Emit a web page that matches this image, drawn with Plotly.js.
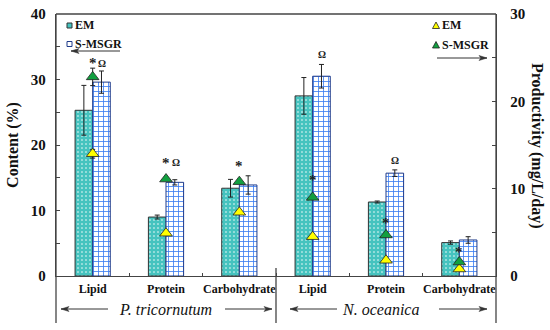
<!DOCTYPE html>
<html><head><meta charset="utf-8">
<script src="https://cdn.plot.ly/plotly-3.0.1.min.js"></script>
<style>body{margin:0;background:#fff}#c{width:550px;height:330px}</style>
</head><body><div id="c"></div>
<script>
const categories = ["Lipid", "Protein", "Carbohydrate"];
const species = ["P. tricornutum", "N. oceanica"];
const xKeys = species.flatMap(s => categories.map(c => s + " " + c));
const tickLabels = species.flatMap(() => categories);

const contentEM    = [25.3, 9.0, 13.4, 27.5, 11.3, 5.1];
const contentEMErr = [3.8, 0.3, 1.35, 2.8, 0.15, 0.25];
const contentSM    = [29.6, 14.3, 13.9, 30.5, 15.7, 5.5];
const contentSMErr = [1.7, 0.4, 1.4, 1.8, 0.5, 0.5];

const prodEM    = [14.0, 4.9, 7.3, 4.5, 1.8, 0.8];
const prodEMErr = [0.5, 0, 0, 0, 0, 0];
const prodSM    = [22.8, 11.1, 10.8, 9.0, 4.7, 1.6];
const prodSMErr = [1.0, 0, 0, 0, 0, 0];

// significance marks: category index, symbol, y (content axis), pixel shift
const sigIdx  = [0, 0, 1, 1, 2, 3, 3, 4, 4, 5];
const sigText = ["*", "Ω", "*", "Ω", "*", "*", "Ω", "*", "Ω", "*"];
const sigY    = [32.5, 32.5, 17.3, 17.3, 16.8, 14.6, 33.8, 8.1, 17.6, 3.6];
const sigDx   = [0, 9, 0, 10, 0, 0, 9, 0, 9, 0];

const SERIF = "'Liberation Serif', 'Times New Roman', Times, serif";
const TEAL = "#45c3bf", BLUE = "#3b7df0", AX = "#444";

const traces = [
  {type:"bar", name:"EM", x:xKeys, y:contentEM,
   error_y:{type:"data", array:contentEMErr, color:"#222", thickness:1, width:2.5},
   marker:{color:TEAL, line:{color:"#333", width:1},
     pattern:{shape:".", fgcolor:"#ffffff", bgcolor:TEAL, size:4, solidity:0.12}},
   showlegend:false},
  {type:"bar", name:"S-MSGR", x:xKeys, y:contentSM,
   error_y:{type:"data", array:contentSMErr, color:"#222", thickness:1, width:2.5},
   marker:{color:"#ffffff", line:{color:"#1f3b8a", width:1},
     pattern:{shape:"+", fgcolor:BLUE, bgcolor:"#ffffff", size:5, solidity:0.3}},
   showlegend:false},
  {type:"scatter", mode:"markers", name:"EM", x:xKeys, y:prodEM, yaxis:"y2",
   error_y:{type:"data", array:prodEMErr, color:"#222", thickness:1, width:2.5},
   marker:{symbol:"triangle-up", size:11, color:"#ffff00", line:{color:"#222", width:0.8}},
   showlegend:false},
  {type:"scatter", mode:"markers", name:"S-MSGR", x:xKeys, y:prodSM, yaxis:"y2",
   error_y:{type:"data", array:prodSMErr, color:"#222", thickness:1, width:2.5},
   marker:{symbol:"triangle-up", size:11, color:"#12a040", line:{color:"#222", width:0.8}},
   showlegend:false}
];

const L = 56, T = 14, W = 440, H = 262;
const px = x => (x - L) / W;
const py = y => (T + H - y) / H;

const shapes = [];
const line = (x0,y0,x1,y1,w,c) => shapes.push({type:"line", xref:"paper", yref:"paper",
  x0:px(x0), y0:py(y0), x1:px(x1), y1:py(y1), line:{color:c||AX, width:w||1.3}});
line(56, 14, 56, 323);
line(496, 14, 496, 323);
line(56, 14, 496, 14);
line(276, 268, 276, 323);

// horizontal arrows: head at hx, tail at tx
const arrow = (hx, tx, y) => {
  line(hx, y, tx, y, 1, "#333");
  const d = tx > hx ? 1 : -1;
  shapes.push({type:"path", xref:"paper", yref:"paper",
    path:`M ${px(hx)},${py(y)} L ${px(hx + d*8)},${py(y-2.5)} L ${px(hx + d*6)},${py(y)} L ${px(hx + d*8)},${py(y+2.5)} Z`,
    fillcolor:"#333", line:{color:"#333", width:0.5}});
};
arrow(71, 120, 51);
arrow(487, 437, 58);
arrow(61, 108, 309);
arrow(272, 225, 309);
arrow(290, 337, 309);
arrow(487, 439, 309);

// legend glyphs
const rect = (cx, cy, s, fill, border) => shapes.push({type:"rect", xref:"paper", yref:"paper",
  x0:px(cx - s/2), x1:px(cx + s/2), y0:py(cy + s/2), y1:py(cy - s/2),
  fillcolor:fill, line:{color:border, width:1}});
rect(69.5, 25.5, 5, TEAL, "#333");
rect(69.5, 44, 5, "#ffffff", "#1f3b8a");
const tri = (cx, cy, fill) => shapes.push({type:"path", xref:"paper", yref:"paper",
  path:`M ${px(cx-3.5)},${py(cy+3)} L ${px(cx+3.5)},${py(cy+3)} L ${px(cx)},${py(cy-3.5)} Z`,
  fillcolor:fill, line:{color:"#222", width:0.8}});
tri(436, 25.5, "#ffff00");
tri(436, 45, "#12a040");

const annotations = [];
const txt = (x, y, text, opt) => annotations.push(Object.assign({xref:"paper", yref:"paper",
  x:px(x), y:py(y), text:text, showarrow:false, xanchor:"left", yanchor:"middle",
  font:{family:SERIF, size:12, color:"#111", weight:"bold"}}, opt||{}));
txt(73, 25.5, "EM");
txt(73, 44, "S-MSGR");
txt(440, 25.5, "EM");
txt(440, 45, "S-MSGR");
txt(537, 145, "Productivity (mg/L/day)", {xanchor:"center", textangle:90,
  font:{family:SERIF, size:16, color:"#111", weight:"bold"}});
txt(165, 309, "P. tricornutum", {xanchor:"center",
  font:{family:SERIF, size:16, color:"#111", style:"italic"}});
txt(380, 309, "N. oceanica", {xanchor:"center",
  font:{family:SERIF, size:16, color:"#111", style:"italic"}});

sigIdx.forEach((i, k) => annotations.push({xref:"x", yref:"y", x:xKeys[i], y:sigY[k],
  xshift:sigDx[k], text:sigText[k], showarrow:false, yanchor:"middle",
  font:{family:SERIF, size:sigText[k] === "*" ? 15 : 10, color:"#222", weight:"bold"}}));

const tickFont = {family:SERIF, size:15, color:"#111", weight:"bold"};
const layout = {
  width:550, height:330, margin:{l:L, r:550 - L - W, t:T, b:330 - T - H},
  paper_bgcolor:"#fff", plot_bgcolor:"#fff",
  barmode:"group", bargap:0.52, bargroupgap:0,
  xaxis:{type:"category", tickvals:xKeys, ticktext:tickLabels, range:[-0.5, 5.5],
    showline:true, linecolor:AX, linewidth:1.3, ticks:"inside", tickson:"boundaries",
    ticklen:3, tickcolor:AX, showgrid:false, zeroline:false, tickangle:0,
    tickfont:{family:SERIF, size:12, color:"#111", weight:"bold"}, ticklabelstandoff:1},
  yaxis:{range:[0, 40], dtick:10, tick0:0, showline:true, linecolor:AX, linewidth:1.3,
    ticks:"inside", ticklen:4, tickcolor:AX, showgrid:false, zeroline:false,
    minor:{dtick:5, ticks:"inside", ticklen:4, tickcolor:AX},
    tickfont:tickFont, ticklabelstandoff:6,
    title:{text:"Content (%)", standoff:8, font:{family:SERIF, size:16, color:"#111", weight:"bold"}}},
  yaxis2:{range:[0, 30], dtick:10, tick0:0, overlaying:"y", side:"right",
    showline:true, linecolor:AX, linewidth:1.3,
    ticks:"inside", ticklen:4, tickcolor:AX, showgrid:false, zeroline:false,
    minor:{dtick:5, ticks:"inside", ticklen:4, tickcolor:AX},
    tickfont:tickFont, ticklabelstandoff:10},
  shapes:shapes, annotations:annotations, showlegend:false
};
Plotly.newPlot("c", traces, layout, {staticPlot:true});
</script></body></html>
